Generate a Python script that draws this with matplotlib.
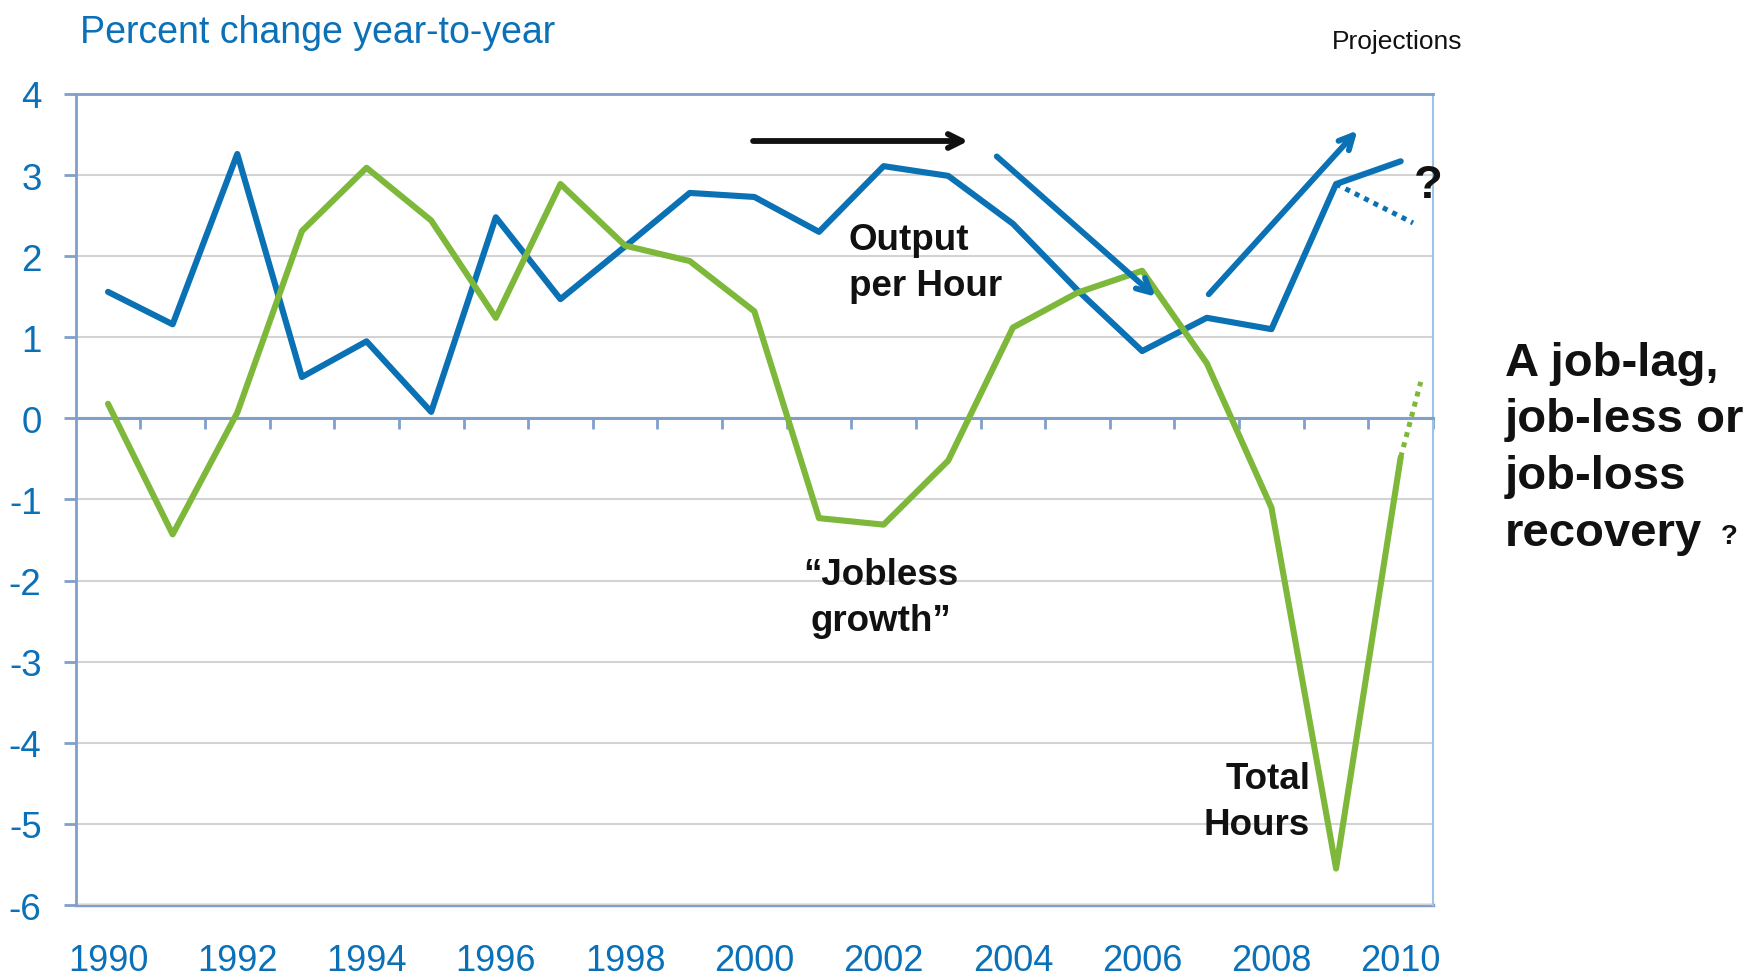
import numpy as np
import matplotlib
matplotlib.use("Agg")
import matplotlib.pyplot as plt

plt.rcParams['font.family'] = ['Liberation Sans', 'DejaVu Sans']

# ---- data -------------------------------------------------------------
years = list(range(1990, 2011))
output_per_hour = [1.56, 1.16, 3.26, 0.51, 0.95, 0.08, 2.48, 1.47, 2.12, 2.78,
                   2.73, 2.30, 3.11, 2.99, 2.40, 1.58, 0.83, 1.24, 1.10, 2.89, 3.17]
total_hours = [0.18, -1.43, 0.07, 2.31, 3.09, 2.44, 1.24, 2.89, 2.13, 1.94,
               1.32, -1.23, -1.31, -0.52, 1.12, 1.55, 1.82, 0.68, -1.10, -5.55, -0.48]

# alternative projection paths (start year/value -> end year/value)
oph_alt_x = [2009, 2010.19]
oph_alt_y = [2.89, 2.41]
hours_alt_x = [2010, 2010.31]
hours_alt_y = [-0.48, 0.45]

label_years = list(range(1990, 2011, 2))
y_ticks = list(range(-6, 5))

# ---- style ------------------------------------------------------------
BLUE = '#0A71B5'
GREEN = '#7DB83A'
TXT_BLUE = '#0A70B8'
AXIS = '#819FCB'
GRID = '#D3D3D3'
DARK = '#111111'

fig = plt.figure(figsize=(17.51, 9.78), dpi=100)
ax = fig.add_axes([0.04323, 0.0736, 0.8184 - 0.04323, 0.9029 - 0.0736])

ax.set_xlim(1989.5, 2010.5)
ax.set_ylim(-6, 4)

# grid
ax.set_yticks(y_ticks)
ax.yaxis.grid(True, color=GRID, lw=1.5)
ax.set_axisbelow(True)

# spines
ax.spines['left'].set_color(AXIS)
ax.spines['left'].set_linewidth(2)
ax.spines['top'].set_color(AXIS)
ax.spines['top'].set_linewidth(2)
ax.spines['right'].set_color('#9DC3E6')
ax.spines['right'].set_linewidth(1.5)
ax.spines['bottom'].set_position(('data', 0))
ax.spines['bottom'].set_color(AXIS)
ax.spines['bottom'].set_linewidth(2.2)

# y ticks
ax.tick_params(axis='y', direction='out', length=8.6, width=2, color=AXIS,
               pad=16, labelsize=26.5, labelcolor=TXT_BLUE)
ax.set_yticklabels([str(v) for v in y_ticks])

# category boundary ticks on the zero line
ax.set_xticks(np.arange(1990.5, 2010.6, 1.0))
ax.tick_params(axis='x', direction='out', length=8, width=2, color=AXIS,
               labelbottom=False)

# year labels along the bottom of the plot area
sec = ax.secondary_xaxis(0)
sec.set_xticks(label_years)
sec.set_xticklabels([str(y) for y in label_years])
sec.tick_params(axis='x', length=0, pad=27, labelsize=26, labelcolor=TXT_BLUE)
sec.spines['bottom'].set_color(AXIS)
sec.spines['bottom'].set_linewidth(2.5)

# ---- series -----------------------------------------------------------
ax.plot(years, output_per_hour, color=BLUE, lw=4.4, solid_joinstyle='round',
        solid_capstyle='round', zorder=3)
ax.plot(years, total_hours, color=GREEN, lw=4.4, solid_joinstyle='round',
        solid_capstyle='round', zorder=3)
ax.plot(oph_alt_x, oph_alt_y, color=BLUE, lw=3.6, linestyle=(0, (1, 1.1)),
        dash_capstyle='butt', zorder=3)
ax.plot(hours_alt_x, hours_alt_y, color=GREEN, lw=3.6, linestyle=(0, (1, 1.1)),
        dash_capstyle='butt', zorder=3)

# ---- arrows -----------------------------------------------------------
def arrow(x0, y0, x1, y1, color):
    ax.annotate('', xy=(x1, y1), xytext=(x0, y0),
                arrowprops=dict(arrowstyle='->,head_length=1.0,head_width=0.5',
                                color=color, lw=4.2, shrinkA=0, shrinkB=0,
                                capstyle='round', joinstyle='round'),
                zorder=4)

arrow(1999.98, 3.42, 2003.31, 3.42, DARK)
arrow(2003.75, 3.23, 2006.21, 1.50, BLUE)
arrow(2007.03, 1.53, 2009.33, 3.55, BLUE)

# ---- labels -----------------------------------------------------------
ax.text(2001.46, 1.92, 'Output\nper Hour', ha='left', va='center',
        fontsize=26.5, fontweight='bold', color=DARK, linespacing=1.4)
ax.text(2001.95, -2.21, '\u201cJobless\ngrowth\u201d', ha='center', va='center',
        fontsize=26.5, fontweight='bold', color=DARK, linespacing=1.4)
ax.text(2008.6, -4.72, 'Total\nHours', ha='right', va='center',
        multialignment='right', fontsize=26.5, fontweight='bold', color=DARK,
        linespacing=1.4)
ax.text(2010.42, 2.88, '?', ha='center', va='center', fontsize=34,
        fontweight='bold', color=DARK)

fig.text(0.0457, 0.966, 'Percent change year-to-year', ha='left', va='center',
         fontsize=27, color=TXT_BLUE)
fig.text(0.7607, 0.9575, 'Projections', ha='left', va='center',
         fontsize=19, color=DARK)

side_lines = ['A job-lag,', 'job-less or', 'job-loss', 'recovery']
side_y = [364, 420, 477, 534]
for line, yp in zip(side_lines, side_y):
    fig.text(1505 / 1751, 1 - yp / 978, line, ha='left', va='center',
             fontsize=34, fontweight='bold', color=DARK)
fig.text(1729 / 1751, 1 - 537 / 978, '?', ha='center', va='center',
         fontsize=20, fontweight='bold', color=DARK)

fig.savefig('out.png', dpi=100, facecolor='white')
